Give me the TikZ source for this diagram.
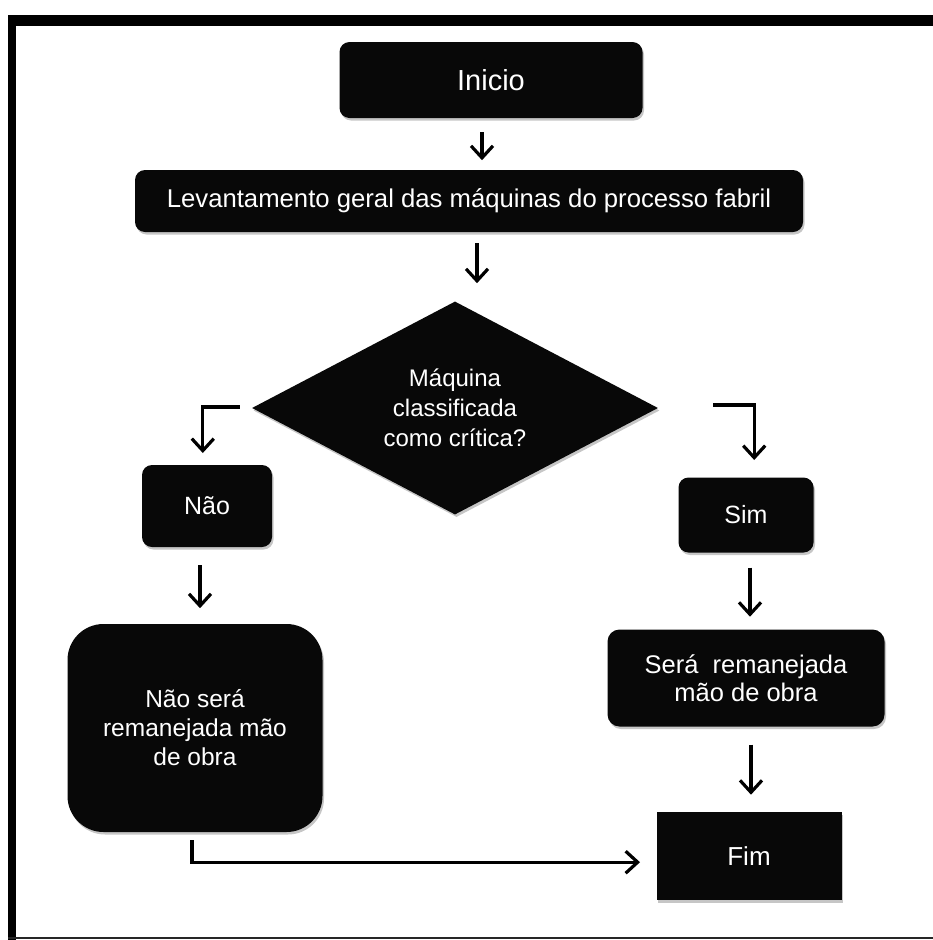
\documentclass[tikz,border=0pt]{standalone}
\usepackage{fontspec}
\setmainfont{Liberation Sans}
\usetikzlibrary{shapes.geometric,shadows,arrows.meta}
\begin{document}
\begin{tikzpicture}[x=1pt,y=-1pt,
  box/.style={fill=black!97, text=white, rounded corners=#1, inner sep=0pt,
    align=center, font=\fontsize{25}{30}\selectfont,
    drop shadow={opacity=0.45, shadow xshift=1.5pt, shadow yshift=-2.5pt}},
  box/.default=10pt,
  arr/.style={line width=3.2pt, -{Straight Barb[length=12pt, width=22pt, line width=3.2pt]}}
]
\useasboundingbox (0,0) rectangle (933,940);
% frame
\fill[black] (8,15) rectangle (933,26);
\fill[black] (8,15) rectangle (16,940);
\fill[black!85] (8,936.5) rectangle (933,938.5);

% nodes
\node[box, minimum width=303pt, minimum height=76pt, font=\fontsize{29}{34}\selectfont] (ini) at (491,80) {Inicio};
\node[box, minimum width=668pt, minimum height=62pt, font=\fontsize{25.7}{30}\selectfont] (lev) at (469,201) {Levantamento geral das máquinas do processo fabril};
\node[diamond, aspect=1.9, fill=black!97, text=white, inner sep=0pt, align=center,
  minimum width=406pt, minimum height=213pt, font=\fontsize{24}{30}\selectfont,
  drop shadow={opacity=0.45, shadow xshift=1.5pt, shadow yshift=-2.5pt}] (dia) at (455,408)
  {Máquina\\classificada\\como crítica?};
\node[box, minimum width=130pt, minimum height=82pt] (nao) at (207,506) {Não};
\node[box, minimum width=135pt, minimum height=75pt] (sim) at (746,515) {Sim};
\node[box=36pt, minimum width=255pt, minimum height=208pt, font=\fontsize{24.5}{29}\selectfont] (big) at (195,728) {Não será\\remanejada mão\\de obra};
\node[box=12pt, minimum width=277pt, minimum height=97pt, font=\fontsize{25.5}{28}\selectfont] (sera) at (746,678) {Será~~remanejada\\mão de obra};
\node[box=0pt, minimum width=185pt, minimum height=88pt, font=\fontsize{26}{30}\selectfont] (fim) at (749,856) {Fim};

% connectors
\draw[arr] (ini.south) ++(-9,14) -- ++(0,28);
\draw[arr] (lev.south) ++(8,11) -- ++(0,40);
\draw[arr] (dia.west) ++(-12,-1) -- ++(-37,0) -- ++(0,46);
\draw[arr] (dia.east) ++(55,-3) -- ++(41,0) -- ++(0,55);
\draw[arr] (nao.south) ++(-7,18) -- ++(0,43);
\draw[arr] (sim.south) ++(4,15) -- ++(0,49);
\draw[arr] (sera.south) ++(5,18) -- ++(0,50);
\draw[arr] (big.south) ++(-3,8) -- ++(0,22) -- ++(448,0);
\end{tikzpicture}
\end{document}
